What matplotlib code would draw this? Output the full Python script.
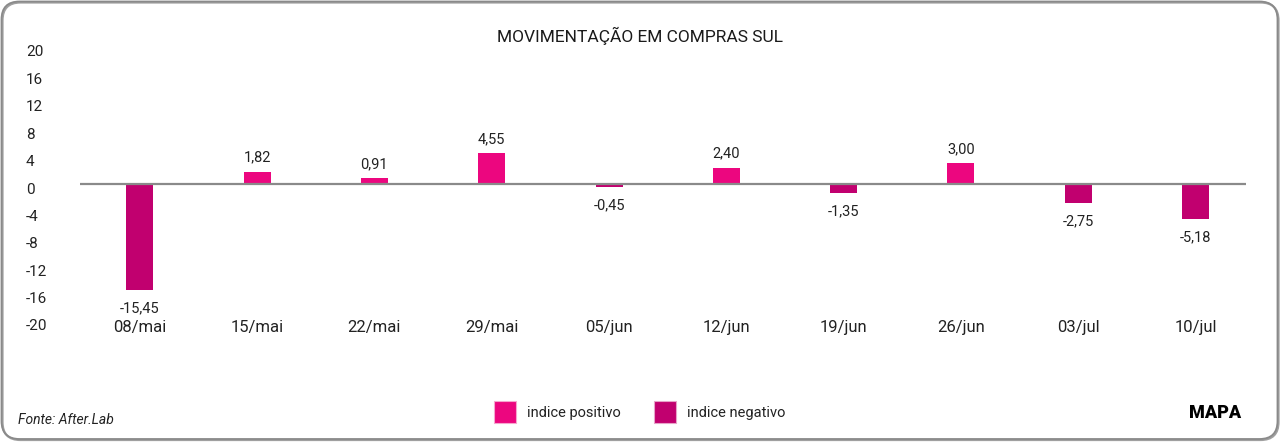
import matplotlib
matplotlib.use("Agg")
import matplotlib.pyplot as plt
from matplotlib.patches import FancyBboxPatch, Patch
from matplotlib.transforms import ScaledTranslation

categories = ["08/mai", "15/mai", "22/mai", "29/mai", "05/jun", "12/jun",
              "19/jun", "26/jun", "03/jul", "10/jul"]
values = [-15.45, 1.82, 0.91, 4.55, -0.45, 2.40, -1.35, 3.00, -2.75, -5.18]
yticks = [20, 16, 12, 8, 4, 0, -4, -8, -12, -16, -20]
title = "MOVIMENTAÇÃO EM COMPRAS SUL"
legend_labels = ["indice positivo", "indice negativo"]
source = "Fonte: After.Lab"
brand = "MAPA"

POS = "#EC067F"
NEG = "#C1006F"
FONT = ["Roboto", "DejaVu Sans"]
plt.rcParams["font.family"] = FONT

W, H = 1280, 442
fig = plt.figure(figsize=(W / 100, H / 100), dpi=100)
fig.patch.set_facecolor("white")

# rounded frame (inch coordinates)
shadow = FancyBboxPatch((0.025, 0.02), 12.76, 4.375,
                        boxstyle="round,pad=0,rounding_size=0.18",
                        transform=fig.dpi_scale_trans, facecolor="none",
                        edgecolor="#a0a0a0", lw=1.6, zorder=0)
frame = FancyBboxPatch((0.015, 0.03), 12.76, 4.375,
                       boxstyle="round,pad=0,rounding_size=0.18",
                       transform=fig.dpi_scale_trans, facecolor="none",
                       edgecolor="#8a8a8a", lw=1.3, zorder=0)
fig.patches.extend([shadow, frame])

ax = fig.add_axes([80 / W, (H - 321) / H, 1166 / W, 274 / H])
ax.set_facecolor("none")
ax.set_zorder(2)

x = list(range(len(categories)))
colors = [POS if v >= 0 else NEG for v in values]
bars = ax.bar(x, values, width=0.23, color=colors, zorder=2)
ax.axhline(0, color="#8a8a8a", lw=1.6, zorder=3)

for b, v in zip(bars, values):
    lab = f"{v:.2f}".replace(".", ",")
    if v >= 0:
        ax.annotate(lab, (b.get_x() + b.get_width() / 2, v), xytext=(0, 5),
                    textcoords="offset points", ha="center", va="bottom",
                    fontsize=10.5, color="#222222")
    else:
        ax.annotate(lab, (b.get_x() + b.get_width() / 2, v), xytext=(0, -8),
                    textcoords="offset points", ha="center", va="top",
                    fontsize=10.5, color="#222222")

ax.set_ylim(-20, 20)
ax.set_xlim(-0.51, 9.43)
ax.set_yticks(yticks)
ax.set_yticklabels([str(t) for t in yticks])
ax.set_xticks(x)
ax.set_xticklabels(categories)
ax.tick_params(axis="y", length=0, pad=39, labelsize=11, labelcolor="#222222")
ax.tick_params(axis="x", length=0, pad=-1, labelsize=12, labelcolor="#222222")
for lbl in ax.get_yticklabels():
    lbl.set_horizontalalignment("left")
    lbl.set_transform(lbl.get_transform() + ScaledTranslation(0, -4 / 100, fig.dpi_scale_trans))
for s in ax.spines.values():
    s.set_visible(False)

fig.text(0.5, 1 - 36 / H, title, ha="center", va="center", fontsize=12.5,
         color="#1a1a1a")

handles = [Patch(facecolor=POS, edgecolor="#f6a6cf", lw=0.8),
           Patch(facecolor=NEG, edgecolor="#e7a3c9", lw=0.8)]
fig.legend(handles, legend_labels, loc="center", bbox_to_anchor=(0.5, 1 - 412 / H),
           ncol=2, frameon=False, fontsize=10.5, handlelength=1.5, handleheight=2.0,
           handletextpad=0.75, columnspacing=2.3, labelcolor="#222222")

fig.text(18 / W, 1 - 420 / H, source, ha="left", va="center", fontsize=10,
         style="italic", color="#222222")
fig.text(1241 / W, 1 - 413 / H, brand, ha="right", va="center", fontsize=13,
         fontweight="black", color="#000000")

fig.savefig("out.png", dpi=100, facecolor="white")
